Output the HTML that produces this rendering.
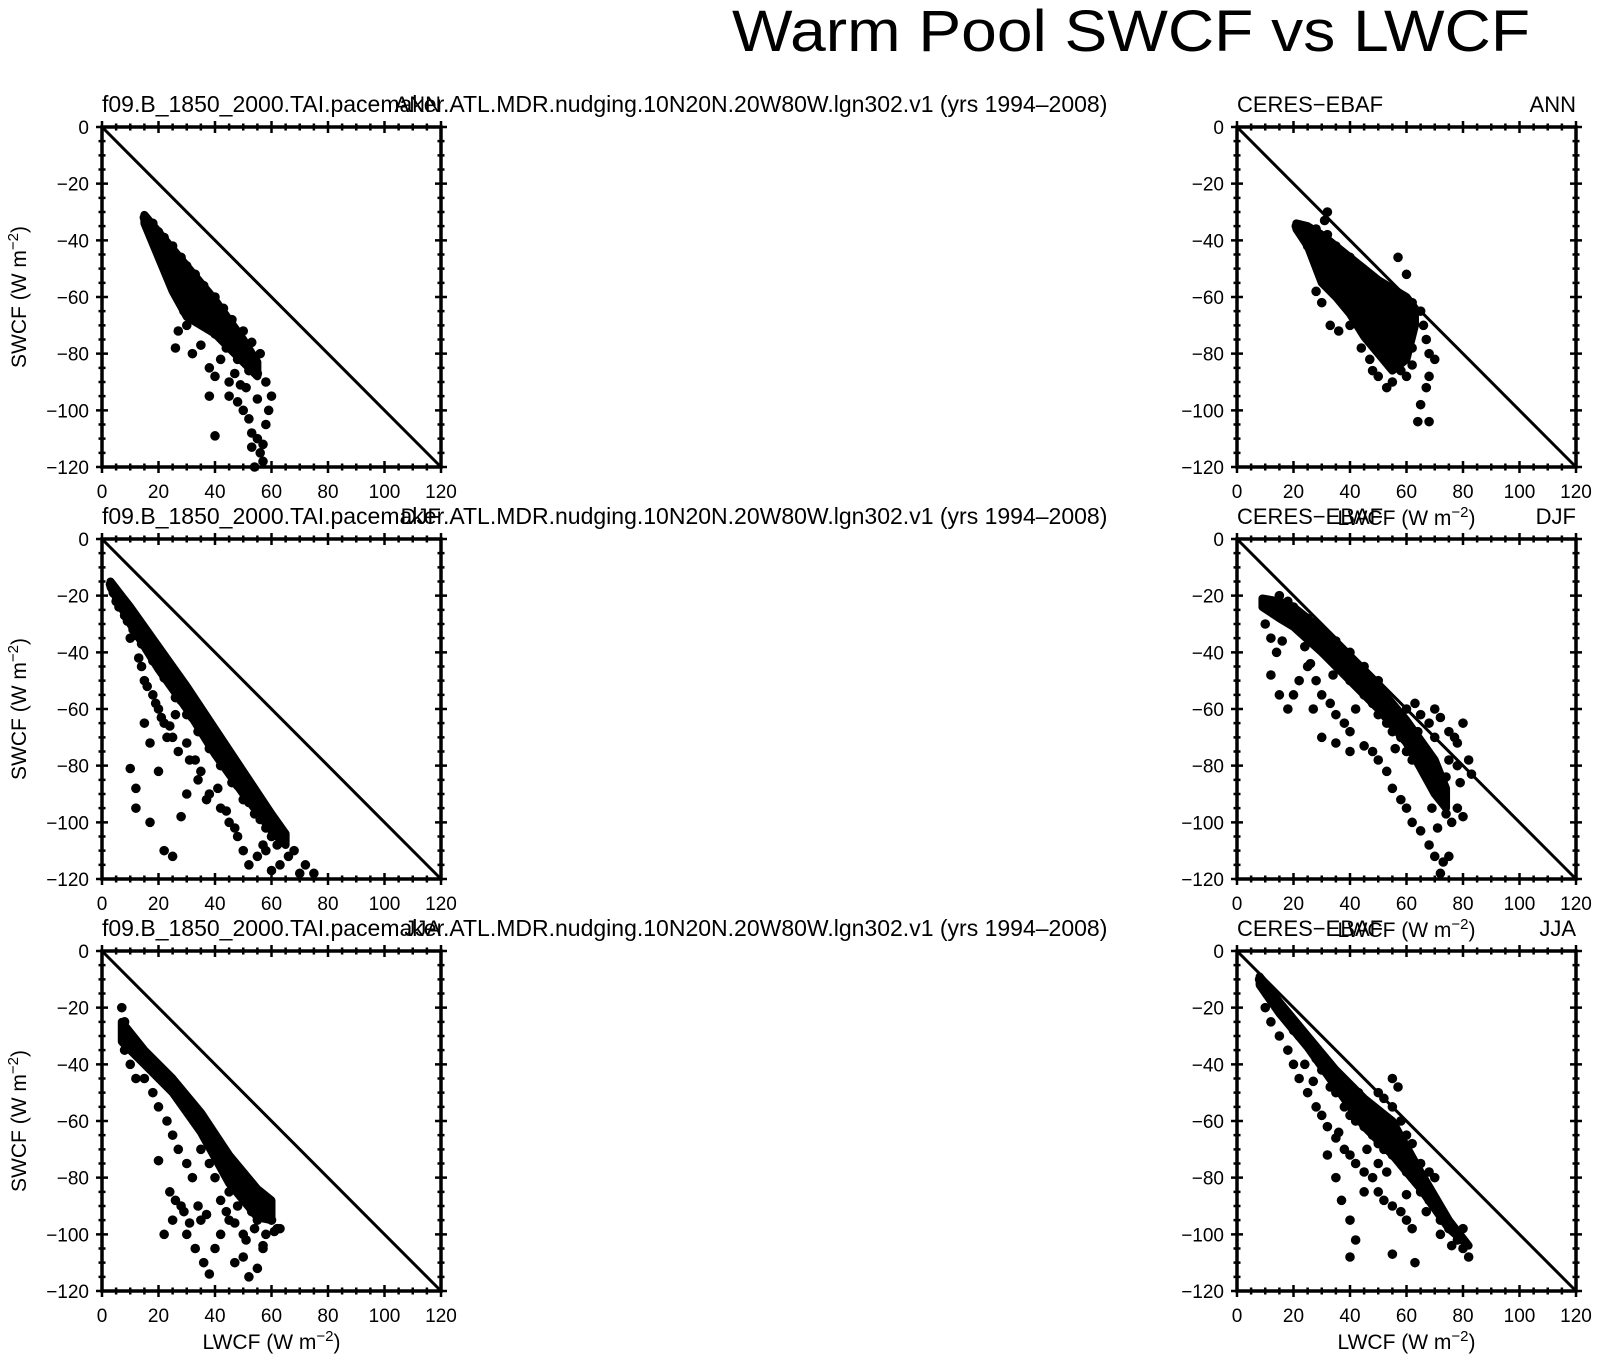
<!DOCTYPE html>
<html><head><meta charset="utf-8"><style>
html,body{margin:0;padding:0;background:#fff}
svg{display:block;font-family:"Liberation Sans",Arial,sans-serif}
</style></head><body>
<svg id="fig" width="1598" height="1361" viewBox="0 0 1598 1361">
<text x="732" y="51" font-size="58" font-weight="300" textLength="798" lengthAdjust="spacingAndGlyphs">Warm Pool SWCF vs LWCF</text>
</svg>
<script>
const xTicks=[0,20,40,60,80,100,120];
const yTicks=[0,-20,-40,-60,-80,-100,-120];
const modelName="f09.B_1850_2000.TAI.pacemaker.ATL.MDR.nudging.10N20N.20W80W.lgn302.v1 (yrs 1994\u20132008)";
const seasons=["ANN","DJF","JJA"];

const annModelX=[15,16,17,18,19,20,21,22,23,24,25,26,27,28,29,30,31,32,33,34,35,36,37,38,39,40,41,42,43,44,45,46,47,48,49,50,51,52,53,54,55,18,20,22,25,28,30,33,36,40,43,46,50,53,56,20,24,27,30,33,36,40,44,48,52,22,26,29,32,35,38,42,46,50,27,26,30,32,35,38,40,42,45,38,40,45,48,50,52,53,55,56,57,54,58,59,60,58,57,55,49,47,51,53,29,34,37];
const annModelY=[-32,-34,-35,-37,-38,-40,-41,-43,-44,-46,-47,-49,-50,-52,-53,-55,-56,-58,-59,-60,-62,-63,-64,-66,-67,-68,-70,-71,-72,-73,-75,-76,-77,-78,-80,-81,-82,-83,-84,-86,-87,-34,-37,-39,-42,-46,-49,-52,-56,-60,-64,-68,-72,-76,-80,-44,-50,-55,-60,-64,-68,-73,-78,-82,-86,-40,-46,-50,-54,-58,-62,-66,-72,-76,-72,-78,-70,-80,-77,-85,-88,-82,-90,-95,-109,-95,-97,-100,-103,-108,-110,-115,-118,-120,-105,-100,-95,-90,-112,-96,-91,-87,-92,-113,-65,-66,-70];
const annObsX=[22,25,28,30,32,35,38,40,42,45,48,50,52,55,57,60,62,25,28,30,33,36,40,43,46,49,52,55,58,60,28,32,35,40,45,50,55,58,60,57,62,65,66,67,68,68,70,67,65,64,68,30,28,33,36,40,44,47,50,53,48,55,32,31,26,30,34,38,42,46,50,54,58,62,60,56,52,48,44,40,36,24,21];
const annObsY=[-35,-37,-40,-42,-45,-48,-52,-55,-58,-60,-63,-66,-70,-73,-76,-80,-84,-42,-47,-50,-54,-57,-62,-66,-70,-74,-78,-82,-86,-88,-36,-38,-42,-46,-52,-55,-58,-60,-52,-46,-62,-65,-70,-75,-80,-88,-82,-92,-98,-104,-104,-62,-58,-70,-72,-70,-78,-82,-88,-92,-86,-90,-30,-33,-38,-45,-50,-56,-62,-66,-70,-75,-80,-78,-72,-68,-62,-58,-56,-50,-46,-36,-35];
const djfModelX=[3,5,7,10,13,16,20,24,28,32,36,40,44,48,52,56,60,64,68,72,75,5,8,11,14,18,22,26,30,34,38,42,46,50,54,58,62,10,13,15,18,20,22,25,27,30,33,35,38,42,45,48,50,52,55,58,60,10,12,12,17,22,25,20,28,30,15,17,4,6,9,12,16,20,24,28,32,36,40,44,48,52,56,60,14,16,19,21,24,26,23,31,34,37,41,44,47,66,70,63,57];
const djfModelY=[-16,-19,-22,-26,-30,-34,-40,-45,-51,-57,-63,-69,-75,-81,-87,-93,-99,-104,-110,-115,-118,-22,-27,-32,-37,-43,-49,-56,-62,-68,-74,-80,-86,-92,-97,-102,-108,-35,-42,-50,-55,-60,-65,-70,-75,-72,-78,-82,-90,-95,-100,-105,-110,-115,-112,-110,-117,-81,-88,-95,-100,-110,-112,-82,-98,-90,-65,-72,-19,-24,-29,-34,-39,-45,-51,-57,-63,-69,-75,-81,-87,-93,-99,-105,-45,-52,-58,-63,-66,-62,-70,-78,-85,-92,-88,-96,-102,-112,-118,-115,-108];
const djfObsX=[10,12,15,18,20,22,25,28,30,33,35,38,40,43,45,48,50,53,55,58,60,62,65,68,70,72,74,10,12,14,12,15,18,20,22,25,28,30,33,35,38,40,30,27,35,40,45,48,50,53,55,58,60,62,65,68,70,72,73,75,76,78,80,60,63,65,68,70,72,75,78,80,82,83,78,75,70,15,18,20,25,30,35,40,45,50,16,24,26,34,42,56,64,66,74,77,79,71,69];
const djfObsY=[-22,-25,-25,-27,-30,-30,-33,-35,-38,-40,-44,-46,-50,-52,-55,-58,-62,-65,-68,-70,-75,-78,-80,-85,-88,-92,-97,-30,-35,-40,-48,-55,-60,-55,-50,-45,-50,-55,-58,-62,-65,-68,-70,-60,-72,-75,-73,-75,-78,-82,-88,-92,-95,-100,-103,-108,-112,-118,-114,-112,-100,-95,-98,-60,-58,-62,-65,-60,-63,-68,-72,-65,-78,-83,-80,-78,-70,-20,-22,-24,-28,-32,-36,-40,-45,-50,-36,-38,-44,-48,-60,-74,-68,-74,-84,-70,-86,-102,-95];
const jjaModelX=[7,8,10,12,15,18,20,22,25,28,30,32,35,38,40,42,45,48,50,52,55,58,60,62,8,10,12,15,18,20,23,25,27,30,32,28,25,22,30,35,33,36,38,40,42,45,47,50,52,55,57,50,48,45,42,40,38,35,55,58,53,63,26,29,31,34,37,24,20,44,47,51,54,57,61];
const jjaModelY=[-20,-25,-30,-33,-36,-40,-42,-45,-48,-52,-55,-58,-62,-66,-70,-72,-76,-80,-82,-85,-88,-92,-95,-98,-35,-40,-45,-45,-50,-55,-60,-65,-70,-75,-80,-90,-95,-100,-100,-95,-105,-110,-114,-105,-100,-95,-110,-108,-115,-112,-105,-100,-90,-85,-88,-80,-75,-70,-95,-100,-92,-98,-88,-92,-96,-90,-93,-85,-74,-92,-96,-102,-98,-104,-99];
const jjaObsX=[8,10,12,14,16,18,20,22,25,28,30,33,35,38,40,42,45,48,50,52,55,58,60,62,65,68,70,72,75,78,80,82,10,12,15,18,20,22,25,28,30,32,35,38,40,42,45,48,50,52,55,58,60,62,35,40,43,45,48,50,52,55,57,55,58,60,62,65,68,70,32,35,37,40,42,40,55,63,45,50,24,27,36,46,53,60,67,72,76,80];
const jjaObsY=[-10,-13,-15,-18,-22,-25,-28,-30,-33,-38,-42,-48,-50,-55,-58,-60,-62,-65,-68,-70,-72,-75,-78,-80,-85,-88,-90,-95,-98,-102,-105,-108,-20,-25,-30,-35,-40,-45,-50,-55,-58,-62,-66,-70,-72,-75,-78,-80,-85,-88,-90,-92,-95,-98,-45,-48,-50,-55,-55,-50,-52,-45,-48,-55,-60,-65,-68,-75,-78,-80,-72,-80,-88,-95,-102,-108,-107,-110,-85,-75,-40,-46,-64,-70,-78,-86,-92,-100,-104,-98];

/* dense cores: x positions with upper/lower SWCF envelope */
const annModelCoreX=[15,20,25,30,35,40,45,50,55];
const annModelCoreTop=[-31,-37,-43,-49,-55,-61,-68,-75,-83];
const annModelCoreBot=[-34,-46,-58,-67,-70,-73,-78,-83,-88];
const annObsCoreX=[21,25,30,35,40,45,50,55,60,63];
const annObsCoreTop=[-34,-35,-38,-42,-46,-50,-54,-57,-60,-64];
const annObsCoreBot=[-36,-42,-55,-60,-66,-74,-80,-86,-82,-70];
const djfModelCoreX=[3,10,20,30,40,50,60,65];
const djfModelCoreTop=[-15,-24,-38,-52,-67,-82,-97,-104];
const djfModelCoreBot=[-17,-30,-46,-60,-76,-90,-103,-108];
const djfObsCoreX=[9,15,20,30,40,50,60,70,74];
const djfObsCoreTop=[-21,-22,-24,-32,-42,-52,-64,-78,-88];
const djfObsCoreBot=[-24,-28,-31,-40,-50,-60,-72,-90,-95];
const jjaModelCoreX=[7,15,25,35,45,55,60];
const jjaModelCoreTop=[-25,-35,-45,-57,-72,-84,-88];
const jjaModelCoreBot=[-32,-40,-50,-64,-82,-94,-95];
const jjaObsCoreX=[8,15,25,35,45,55,65,75,82];
const jjaObsCoreTop=[-9,-18,-30,-42,-52,-60,-78,-95,-104];
const jjaObsCoreBot=[-12,-22,-34,-48,-62,-72,-84,-98,-104];

const panels=[
 {col:0,row:0,xs:annModelX,ys:annModelY,cx:annModelCoreX,ct:annModelCoreTop,cb:annModelCoreBot},
 {col:1,row:0,xs:annObsX,ys:annObsY,cx:annObsCoreX,ct:annObsCoreTop,cb:annObsCoreBot},
 {col:0,row:1,xs:djfModelX,ys:djfModelY,cx:djfModelCoreX,ct:djfModelCoreTop,cb:djfModelCoreBot},
 {col:1,row:1,xs:djfObsX,ys:djfObsY,cx:djfObsCoreX,ct:djfObsCoreTop,cb:djfObsCoreBot},
 {col:0,row:2,xs:jjaModelX,ys:jjaModelY,cx:jjaModelCoreX,ct:jjaModelCoreTop,cb:jjaModelCoreBot},
 {col:1,row:2,xs:jjaObsX,ys:jjaObsY,cx:jjaObsCoreX,ct:jjaObsCoreTop,cb:jjaObsCoreBot}
];
const colX=[102,1237], rowY=[127,539,951], W=339, H=340;
const NS="http://www.w3.org/2000/svg";
const svg=document.getElementById('fig');
function mk(tag,attrs,parent){const e=document.createElementNS(NS,tag);for(const k in attrs)e.setAttribute(k,attrs[k]);(parent||svg).appendChild(e);return e;}

panels.forEach((p)=>{
  const x0=colX[p.col], y0=rowY[p.row];
  const sx=v=>x0+v/120*W;
  const sy=v=>y0+(-v)/120*H;
  const g=mk('g',{});
  
  
  const ln=mk('line',{x1:sx(0),y1:sy(0),x2:sx(120),y2:sy(-120),stroke:'#000','stroke-width':3},g);
  
  
  let pts=[];
  for(let i=0;i<p.cx.length;i++)pts.push(sx(p.cx[i])+','+sy(p.ct[i]));
  for(let i=p.cx.length-1;i>=0;i--)pts.push(sx(p.cx[i])+','+sy(p.cb[i]));
  const core=mk('polygon',{points:pts.join(' '),fill:'#000',stroke:'#000','stroke-width':8,'stroke-linejoin':'round'},g);
  
  
  for(let i=0;i<p.xs.length;i++){
    const c=mk('circle',{cx:sx(p.xs[i]),cy:sy(p.ys[i]),r:4.8,fill:'#000'},g);
    
    
  }
  const fr=mk('rect',{x:x0,y:y0,width:W,height:H,fill:'none',stroke:'#000','stroke-width':3.5},g);
  
  
  let d='';
  for(let v=0;v<=120;v+=5){
    const L=(v%20===0)?6:3.5;
    const X=sx(v); d+=`M${X},${y0+H-L}V${y0+H+L}M${X},${y0-L}V${y0+L}`;
    const Y=sy(-v); d+=`M${x0-L},${Y}H${x0+L}M${x0+W-L},${Y}H${x0+W+L}`;
  }
  const tk=mk('path',{d:d,stroke:'#000','stroke-width':2.5,fill:'none'},g);
  
  
  xTicks.forEach(v=>{
    const t=mk('text',{x:sx(v),y:y0+H+31,'font-size':19,'text-anchor':'middle'},g);
    t.textContent=String(v);
    
    
  });
  yTicks.forEach(v=>{
    const t=mk('text',{x:x0-13,y:sy(v)+7,'font-size':19,'text-anchor':'end'},g);
    t.textContent=String(v).replace('-','\u2212');
    
    
  });
  const lt=mk('text',{x:x0,y:y0-15,'font-size':p.col?22:23},g);
  lt.textContent=p.col?'CERES\u2212EBAF':modelName;
  
  
  const rt=mk('text',{x:x0+W,y:y0-15,'font-size':22,'text-anchor':'end'},g);
  rt.textContent=seasons[p.row];
  
  
  if(p.col===0){
    const yl=mk('text',{x:0,y:0,'font-size':21,'text-anchor':'middle',transform:`translate(26,${y0+H/2}) rotate(-90)`},g);
    yl.innerHTML='SWCF (W m<tspan dy="-8" font-size="15">\u22122</tspan><tspan dy="8">)</tspan>';
    
    
  }
  if(p.col===1||p.row===2){
    const xl=mk('text',{x:x0+W/2,y:y0+H+58,'font-size':21,'text-anchor':'middle'},g);
    xl.innerHTML='LWCF (W m<tspan dy="-8" font-size="15">\u22122</tspan><tspan dy="8">)</tspan>';
    
    
  }
});
</script>
</body></html>
